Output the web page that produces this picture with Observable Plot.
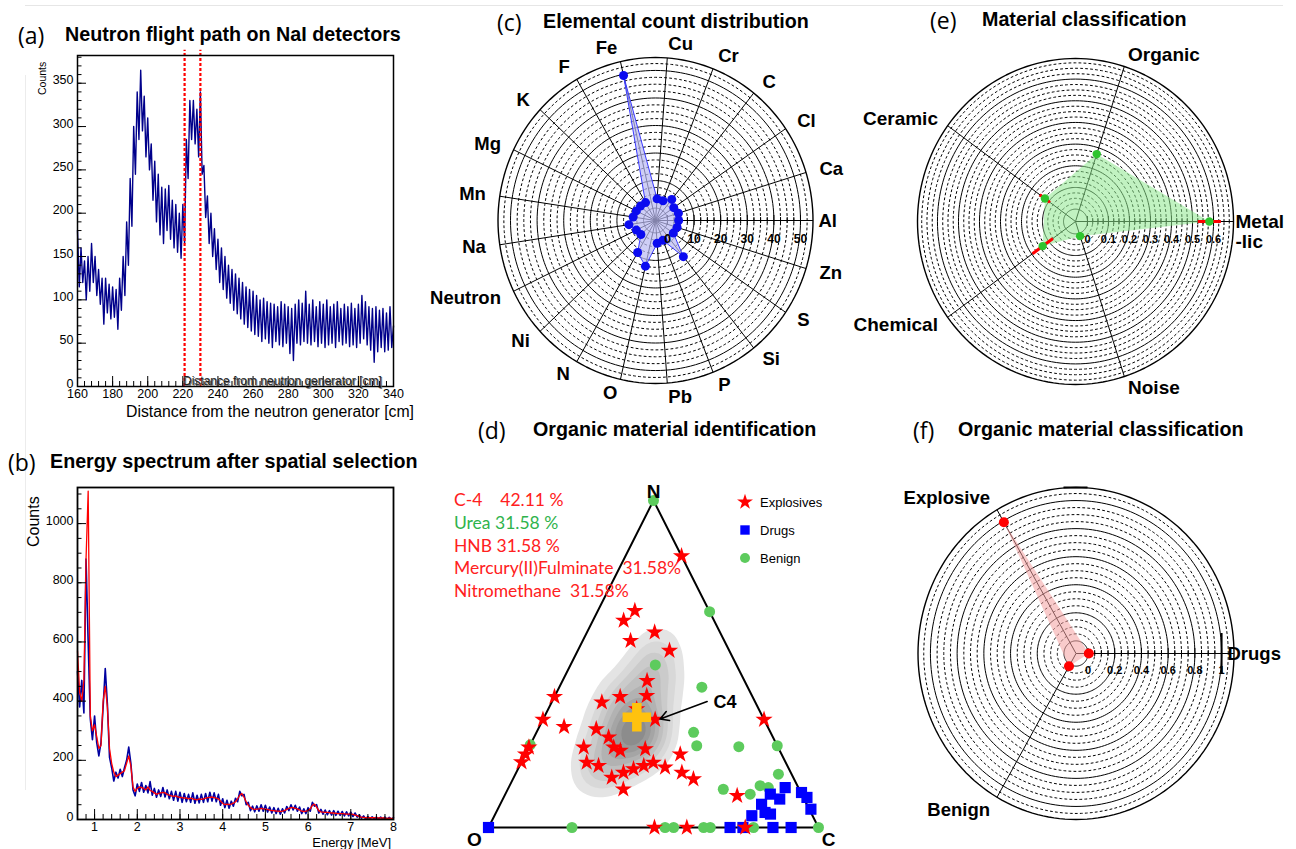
<!DOCTYPE html>
<html><head><meta charset="utf-8">
<script src="https://cdn.jsdelivr.net/npm/d3@7"></script>
<script src="https://cdn.jsdelivr.net/npm/@observablehq/plot@0.6"></script>
<style>
html,body{margin:0;padding:0;background:#fff;}
#root{position:relative;width:1296px;height:849px;overflow:hidden;font-family:"Liberation Sans",Arial,sans-serif;color:#000;}
#root svg{overflow:visible;}
</style></head><body><div id="root"></div>
<script>
// ================= DATA =================
// (a) neutron flight path, 1 cm bins starting at 160 cm
const aStartCm = 160;
const aBinCm = 1;
const aCounts = [
180,115,160,120,145,100,150,110,165,120,
150,105,135,95,125,72,125,85,118,78,
115,80,112,66,125,88,150,105,190,140,
240,185,300,245,340,285,365,295,335,265,
310,250,280,215,260,190,245,175,230,165,
228,180,232,170,215,160,210,155,200,148,
210,165,285,240,330,285,330,280,320,265,
340,245,255,195,220,165,200,150,182,135,
170,120,160,112,150,102,140,96,135,88,
130,84,125,78,120,72,115,68,112,64,
110,60,105,58,100,52,102,55,98,50,
96,45,95,52,92,48,98,46,95,50,
92,38,90,30,95,50,100,48,96,52,
110,50,95,48,100,52,92,46,98,50,
95,45,100,48,92,50,95,45,98,52,
90,48,95,50,92,46,96,48,90,45,
95,50,105,55,98,48,92,42,90,28,
92,40,88,45,90,40,85,42,92,45,
70];
const aCutsCm = [221, 230];
const aXTicks = [160,180,200,220,240,260,280,300,320,340];
const aYTicks = [0,50,100,150,200,250,300,350];

// (b) energy spectrum, 0.05 MeV bins starting at 0.6 MeV
const bStartMeV = 0.6;
const bBinMeV = 0.05;
const bMeasured = [
500,380,470,360,880,600,340,270,350,260,
215,260,380,510,390,210,175,130,160,140,
170,145,175,200,245,190,100,80,120,95,
125,92,115,90,128,82,105,75,100,78,
108,76,100,70,95,65,95,62,92,58,
88,60,85,58,90,55,82,56,85,58,
88,60,92,62,90,60,85,48,70,40,
65,38,62,45,72,60,95,80,85,50,
58,30,45,26,46,28,50,28,48,25,
42,22,40,20,38,18,36,22,44,30,
50,32,48,28,42,20,36,20,40,28,
58,45,50,22,34,18,32,16,30,15,
30,14,28,14,27,12,26,12,25,10,
22,8,16,4,12,2,10,2,9,2,
8,2,8,1,8,1,7,1,6];
const bSmoothed = [
570,430,400,470,880,1110,350,300,320,280,
240,250,400,450,380,240,190,160,145,150,
155,160,165,190,215,180,110,95,105,110,
108,105,100,110,98,95,90,85,88,90,
92,90,85,82,80,78,80,76,75,74,
72,73,70,72,70,68,66,70,68,70,
72,74,75,76,74,72,70,62,55,50,
52,50,52,55,60,70,82,88,75,60,
48,40,36,34,35,36,38,36,35,34,
32,30,30,28,28,27,28,30,34,38,
40,40,38,36,32,28,27,28,30,36,
48,52,42,30,26,25,24,24,23,22,
22,21,20,20,20,19,18,18,18,17,
15,13,10,8,7,6,6,6,6,6,
5,5,5,5,5,4,5,4,4];
const bXTicks = [1,2,3,4,5,6,7,8];
const bYTicks = [0,200,400,600,800,1000];

// (c) elemental counts (counter-clockwise from Al)
const cElements = ["Al","Ca","Cl","C","Cr","Cu","Fe","F","K","Mg","Mn","Na","Neutron","Ni","N","O","Pb","P","Si","S","Zn"];
const cCounts   = [4.2,4.5,3.8,5.3,3.2,3.4,49.5,3.0,3.2,3.5,4.0,5.6,3.5,3.0,8.9,12.5,3.8,3.2,12.3,3.6,4.0];
const cRadialTicks = [0,10,20,30,40,50];

// (d) ternary compositions [N fraction, C fraction]; O = 1 - N - C
const dExplosives = [[0.83,0.17],[0.33,0.67],[0.40,0],[0.33,0],[0.245,0],[0.20,0],[0.224,0],[0.308,0.075],
 [0.633,0.093],[0.663,0.112],[0.571,0.145],[0.597,0.205],[0.541,0.278],[0.449,0.256],[0.403,0.278],[0.400,0.199],
 [0.383,0.152],[0.362,0.268],[0.330,0.340],[0.301,0.176],[0.276,0.226],[0.245,0.166],[0.245,0.257],[0.235,0.282],
 [0.240,0.355],[0.199,0.198],[0.189,0.239],[0.153,0.297],[0.168,0.325],[0.179,0.350],[0.189,0.376],[0.199,0.400],
 [0.184,0.443],[0.224,0.469],[0.168,0.502],[0.148,0.547],[0.117,0.350],[0.097,0.705],[0,0.503],[0,0.601],[0,0.778]];
const dDrugs = [[0,0],[0,0.732],[0,0.771],[0,0.862],[0,0.917],[0.036,0.780],[0.071,0.792],[0.041,0.834],
 [0.102,0.803],[0.087,0.839],[0.122,0.838],[0.107,0.895],[0.092,0.919],[0.056,0.949],[0.046,0.815]];
const dBenign = [[1,0],[0.66,0.34],[0.497,0.257],[0.429,0.432],[0.291,0.476],[0.25,0.506],[0.247,0.635],[0.25,0.75],
 [0.163,0.797],[0.117,0.653],[0.102,0.742],[0.128,0.759],[0.122,0.787],[0.253,0],[0,0.253],[0,0.535],[0,0.561],
 [0,0.652],[0,0.672],[0,0.803],[0,1]];
const dC4Cloud = [[0.551,0.240],[0.490,0.255],[0.449,0.235],[0.429,0.306],[0.408,0.195],[0.367,0.296],[0.347,0.246],
 [0.327,0.196],[0.306,0.347],[0.286,0.306],[0.265,0.267],[0.245,0.216],[0.245,0.357],[0.204,0.317],[0.184,0.267],
 [0.163,0.237],[0.327,0.296],[0.265,0.307]];
const dC4 = [0.337,0.281];
const dC4Arrow = [[0.385,0.470],[0.332,0.354]];
const dC4Label = [0.383,0.49];
const dVertices = [["N",[1,0]],["O",[0,0]],["C",[0,1]]];
const dScoreText = ["C-4    42.11 %","Urea 31.58 %","HNB 31.58 %","Mercury(II)Fulminate  31.58%","Nitromethane  31.58%"];
const dScoreKind = ["explosive","benign","explosive","explosive","explosive"];
const dLegend = ["Explosives","Drugs","Benign"];

// (e) material classification
const eClasses = ["Metallic","Organic","Ceramic","Chemical","Noise"];
const eLabels  = ["Metal\n-lic","Organic","Ceramic","Chemical","Noise"];
const eScores  = [0.58,0.27,0.123,0.136,0.014];
const eErrors  = [0.055,0.015,0.03,0.06,0.01];
const eRadialTicks = [0,0.1,0.2,0.3,0.4,0.5,0.6];

// (f) organic material classification
const fClasses = ["Drugs","Explosive","Benign"];
const fScores  = [0.006,0.99,0.015];
const fRadialTicks = [0,0.2,0.4,0.6,0.8,1];

// ================= HELPERS =================
const root = document.getElementById("root");
const FONT = '"Liberation Sans", Arial, sans-serif';
const LABFONT = '"Open Sans", Lato, sans-serif';
function put(node, left, top) { node.style.position = "absolute"; node.style.left = left + "px"; node.style.top = top + "px"; root.appendChild(node); }
function txt(s, x, y, o = {}) {
  const d = document.createElement("div");
  d.textContent = s;
  const size = o.size || 13;
  Object.assign(d.style, {position:"absolute", left:x+"px", top:(y - size*0.5)+"px", fontSize:size+"px", lineHeight:size+"px",
    whiteSpace:"pre", fontFamily:o.family || FONT, fontWeight:o.weight || "normal", color:o.color || "#000"});
  if (o.shadow) d.style.textShadow = o.shadow;
  if (o.anchor === "end") d.style.transform = "translateX(-100%)";
  if (o.anchor === "middle") d.style.transform = "translateX(-50%)";
  if (o.rotate) { d.style.transformOrigin = "0 0"; d.style.transform = "rotate(-90deg)"; d.style.top = y + "px"; }
  root.appendChild(d);
  return d;
}
const baseStyle = {fontFamily: FONT, fontSize: "13px", background: "transparent", color: "black", overflow: "visible"};

function histPlot(o) {
  const w = o.W - o.ml - o.mr, h = o.H - o.mt - o.mb;
  const kx = (o.xDom[1]-o.xDom[0]) / w, ky = (o.yDom[1]-o.yDom[0]) / h;
  return Plot.plot({
    width:o.W, height:o.H, marginLeft:o.ml, marginRight:o.mr, marginTop:o.mt, marginBottom:o.mb,
    x:{domain:o.xDom}, y:{domain:o.yDom}, style:baseStyle,
    marks:[
      ...o.marks,
      Plot.ruleX(o.xMaj, {y1:o.yDom[0], y2:o.yDom[0] + 10*ky, stroke:"black"}),
      Plot.ruleX(o.xMin, {y1:o.yDom[0], y2:o.yDom[0] + 5*ky, stroke:"black"}),
      Plot.ruleY(o.yMaj, {x1:o.xDom[0], x2:o.xDom[0] + 9*kx, stroke:"black"}),
      Plot.ruleY(o.yMin, {x1:o.xDom[0], x2:o.xDom[0] + 4.5*kx, stroke:"black"}),
      Plot.frame({stroke:"black", strokeWidth:o.frameW || 1.5}),
      Plot.axisX(o.xMaj, {tickSize:0, tickPadding:3, label:null, tickFormat:d => String(d), fontSize:12.5}),
      Plot.axisY(o.yMaj, {tickSize:0, tickPadding:4, label:null, tickFormat:d => String(d), fontSize:12.5, dy:-3})
    ]
  });
}

function polarPlot(o) {
  const U = v => (v + o.vOff) / (o.vMax + o.vOff);
  const n = o.cats.length;
  const th = i => i * 2 * Math.PI / n;
  const P = (v, i) => ({x: U(v) * Math.cos(th(i)), y: U(v) * Math.sin(th(i))});
  const degs = d3.range(0, 361, 2);
  const ring = vs => vs.flatMap(v => degs.map(a => ({v, x: U(v)*Math.cos(a*Math.PI/180), y: U(v)*Math.sin(a*Math.PI/180)})));
  const step = (o.solid[1] - o.solid[0]) / (o.nDash + 1);
  const bounds = [...o.solid, o.vMax];
  const dashV = [];
  for (let k = 0; k < bounds.length - 1; k++)
    for (let j = 1; j <= o.nDash; j++) { const v = bounds[k] + j*step; if (v < bounds[k+1] - step*0.3) dashV.push(v); }
  const spokes = o.cats.map((c, i) => ({x2: Math.cos(th(i)), y2: Math.sin(th(i))}));
  const labs = o.labels.map((t, i) => {
    const c = Math.cos(th(i)), s = Math.sin(th(i));
    const off = Math.abs(s) < 0.05 ? o.hOff : o.off;
    return {t, x: c*(1 + off/o.rx), y: s*(1 + off/o.ry), a: c > 0.05 ? "start" : c < -0.05 ? "end" : "middle", multi: t.includes("\n")};
  });
  const labMarks = [];
  for (const a of ["start","end","middle"]) for (const m of [false,true]) {
    const sub = labs.filter(d => d.a === a && d.multi === m);
    if (sub.length) labMarks.push(Plot.text(sub, {x:"x", y:"y", text:"t", textAnchor:a, dy: m ? 10 : 0, fontSize:o.labSize, fontWeight:"bold", lineHeight:1.05}));
  }
  return Plot.plot({
    width:o.W, height:o.H, marginLeft:o.cx - o.rx, marginRight:o.W - o.cx - o.rx, marginTop:o.cy - o.ry, marginBottom:o.H - o.cy - o.ry,
    x:{domain:[-1,1], axis:null}, y:{domain:[-1,1], axis:null}, style:baseStyle,
    marks:[
      Plot.line(ring(dashV), {x:"x", y:"y", z:"v", stroke:"black", strokeWidth:1, strokeDasharray:"2,3"}),
      Plot.line(ring(o.solid), {x:"x", y:"y", z:"v", stroke:"black", strokeWidth:1}),
      Plot.line(ring([o.vMax]), {x:"x", y:"y", z:"v", stroke:"black", strokeWidth:1.4}),
      Plot.link(spokes, {x1:() => 0, y1:() => 0, x2:"x2", y2:"y2", stroke:"black", strokeWidth:1}),
      Plot.ruleX(dashV.filter(v => v <= o.ticks[o.ticks.length-1]), {x:v => U(v), y1:-3/o.ry, y2:3/o.ry, stroke:"black"}),
      Plot.ruleX(o.ticks, {x:v => U(v), y1:-5/o.ry, y2:5/o.ry, stroke:"black"}),
      ...o.extra(U, th, P),
      Plot.text(o.ticks, {x:v => U(v), y:() => 0, text:o.tickFmt, dy:o.tickDy, fontSize:o.tickSize, fontWeight:"bold"}),
      ...labMarks
    ]
  });
}

// ================= PAGE DECOR =================
const hl = document.createElement("div"); Object.assign(hl.style, {width:"1258px", height:"1px", background:"#e6e6e6"}); put(hl, 25, 5);
const vl = document.createElement("div"); Object.assign(vl.style, {width:"1px", height:"715px", background:"#ececec"}); put(vl, 25, 75);

// ================= (a) =================
const aData = aCounts.map((c, i) => ({cm: aStartCm + i*aBinCm, counts: c}));
put(histPlot({
  W:430, H:420, ml:77, mr:37, mt:55, mb:34, xDom:[160,340], yDom:[0,382],
  xMaj:aXTicks, xMin:d3.range(160, 341, 4), yMaj:aYTicks, yMin:d3.range(0, 381, 10),
  marks:[
    Plot.line(aData, {x:"cm", y:"counts", stroke:"#00008b", strokeWidth:1.4}),
    Plot.ruleX(aCutsCm, {y1:0, y2:388, stroke:"#ff0000", strokeWidth:2.2, strokeDasharray:"3,2"})
  ]
}), 0, 0);
txt("(a)", 18, 35, {size:23, family:LABFONT});
txt("Neutron flight path on NaI detectors", 65, 35, {size:19.7, weight:"bold"});
txt("Counts", 37, 95, {size:10.5, rotate:true});
txt("Distance from neutron generator [cm]", 183, 380.5, {size:12, color:"#222", shadow:"1px 1px 0 #777"});
txt("Distance from the neutron generator [cm]", 126, 411.5, {size:15.8});

// ================= (b) =================
const bData = bMeasured.map((c, i) => ({e: bStartMeV + i*bBinMeV, counts: c}));
const bFit = bSmoothed.map((c, i) => ({e: bStartMeV + i*bBinMeV, counts: c}));
put(histPlot({
  W:430, H:409, ml:77, mr:37, mt:47, mb:30, xDom:[0.6,8], yDom:[0,1122], frameW:1.8,
  xMaj:bXTicks, xMin:d3.range(0.6, 8.01, 0.2).map(v => +v.toFixed(2)), yMaj:bYTicks, yMin:d3.range(0, 1101, 50),
  marks:[
    Plot.line(bData, {x:"e", y:"counts", stroke:"#0000a0", strokeWidth:1.6}),
    Plot.line(bFit, {x:"e", y:"counts", stroke:"#ff0000", strokeWidth:1.3})
  ]
}), 0, 440);
txt("(b)", 8, 462, {size:23, family:LABFONT});
txt("Energy spectrum after spatial selection", 50, 462, {size:19.7, weight:"bold"});
txt("Counts", 26, 547, {size:16, rotate:true});
txt("Energy [MeV]", 391, 842, {size:13, anchor:"end"});

// ================= (c) =================
put(polarPlot({
  W:440, H:420, cx:235, cy:220, rx:157.5, ry:163,
  cats:cElements, labels:cElements, vOff:4.5, vMax:54.7, solid:[0,10,20,30,40,50], nDash:3,
  ticks:cRadialTicks, tickFmt:d => String(d), tickDy:19, tickSize:12, labSize:18.5, off:14, hOff:5.5,
  extra:(U, th, P) => {
    const pts = cCounts.map((v, i) => P(v, i));
    return [
      Plot.line(pts, {x:"x", y:"y", curve:"linear-closed", fill:"#b9b9f2", fillOpacity:0.7, stroke:"none"}),
      Plot.line(pts, {x:"x", y:"y", curve:"linear-closed", stroke:"#3a3aff", strokeWidth:1}),
      Plot.dot(pts, {x:"x", y:"y", r:4.5, fill:"#0b0bf0"})
    ];
  }
}), 420, 0);
txt("(c)", 497, 22, {size:23, family:LABFONT});
txt("Elemental count distribution", 543, 22, {size:19.7, weight:"bold"});

// ================= (d) =================
const tx = d => d[1] + d[0]/2, ty = d => d[0];
const scoreColor = {explosive:"#ff2020", benign:"#2fb34c"};
put(Plot.plot({
  width:440, height:429, marginLeft:68, marginRight:42, marginTop:80, marginBottom:22,
  x:{domain:[0,1], axis:null}, y:{domain:[0,1], axis:null},
  color:{type:"linear", range:["#f1f1f1","#8c8c8c"]},
  style:baseStyle,
  marks:[
    Plot.density(dC4Cloud, {x:tx, y:ty, fill:"density", bandwidth:15, thresholds:9}),
    Plot.line([[0,0],[0,1],[1,0],[0,0]], {x:tx, y:ty, stroke:"black", strokeWidth:2}),
    Plot.dot(dBenign, {x:tx, y:ty, r:5.5, fill:"#5dcb5d"}),
    Plot.dot(dDrugs, {x:tx, y:ty, symbol:"square", r:6.3, fill:"#0000ff"}),
    Plot.dot(dExplosives, {x:tx, y:ty, symbol:"star", r:5.4, fill:"#ff0000"}),
    Plot.dot([dC4], {x:tx, y:ty, symbol:"cross", r:12, fill:"#ffc20e"}),
    Plot.arrow([dC4Arrow], {x1:d => tx(d[0]), y1:d => ty(d[0]), x2:d => tx(d[1]), y2:d => ty(d[1]), stroke:"black", strokeWidth:1.6, headLength:9}),
    Plot.text([dC4Label], {x:tx, y:ty, text:() => "C4", textAnchor:"start", fontWeight:"bold", fontSize:18}),
    Plot.text(dVertices.filter(d => d[0] === "N"), {x:d => tx(d[1]), y:d => ty(d[1]), text:d => d[0], dy:-9, fontWeight:"bold", fontSize:19}),
    Plot.text(dVertices.filter(d => d[0] === "O"), {x:d => tx(d[1]), y:d => ty(d[1]), text:d => d[0], dx:-14, dy:12, fontWeight:"bold", fontSize:19}),
    Plot.text(dVertices.filter(d => d[0] === "C"), {x:d => tx(d[1]), y:d => ty(d[1]), text:d => d[0], dx:10, dy:12, fontWeight:"bold", fontSize:19})
  ]
}), 420, 420);
txt("(d)", 478, 430, {size:23, family:LABFONT});
txt("Organic material identification", 533, 430, {size:19.7, weight:"bold"});
dScoreText.forEach((s, i) => txt(s, 454, 500 + i*22.7, {size:17.5, family:"Lato, 'Open Sans', sans-serif", color:scoreColor[dScoreKind[i]]}));
// legend
const legSym = [[d3.symbolStar, Math.PI*5*5, "#ff0000"], [d3.symbolSquare, Math.PI*5.3*5.3, "#0000ff"], [d3.symbolCircle, Math.PI*5*5, "#5dcb5d"]];
dLegend.forEach((name, i) => {
  const svg = d3.create("svg").attr("width", 20).attr("height", 20);
  svg.append("path").attr("transform", "translate(10,10)").attr("d", d3.symbol(legSym[i][0], legSym[i][1])()).attr("fill", legSym[i][2]);
  put(svg.node(), 735, 492 + i*28);
  txt(name, 760, 502 + i*28, {size:13});
});

// ================= (e) =================
put(polarPlot({
  W:456, H:420, cx:235, cy:221, rx:158, ry:163,
  cats:eClasses, labels:eLabels, vOff:0.057, vMax:0.695, solid:[0,0.1,0.2,0.3,0.4,0.5,0.6], nDash:3,
  ticks:eRadialTicks, tickFmt:d => String(d), tickDy:18, tickSize:11, labSize:19, off:12, hOff:2,
  extra:(U, th, P) => {
    const pts = eScores.map((v, i) => P(v, i));
    const errs = eScores.map((v, i) => { const a = P(Math.max(0, v - eErrors[i]), i), b = P(v + eErrors[i], i); return {x1:a.x, y1:a.y, x2:b.x, y2:b.y}; });
    return [
      Plot.line(pts, {x:"x", y:"y", curve:"linear-closed", fill:"#8ee88e", fillOpacity:0.55, stroke:"none"}),
      Plot.link(errs, {x1:"x1", y1:"y1", x2:"x2", y2:"y2", stroke:"#ff0000", strokeWidth:3}),
      Plot.dot(pts, {x:"x", y:"y", r:4.2, fill:"#2ec42e"})
    ];
  }
}), 840, 0);
txt("(e)", 930, 20, {size:23, family:LABFONT});
txt("Material classification", 982, 20, {size:19.7, weight:"bold"});

// ================= (f) =================
put(polarPlot({
  W:456, H:429, cx:235.5, cy:233, rx:158, ry:166,
  cats:fClasses, labels:fClasses, vOff:0.09, vMax:1.093, solid:[0,0.2,0.4,0.6,0.8,1.0], nDash:3,
  ticks:fRadialTicks, tickFmt:d => String(d), tickDy:17, tickSize:11, labSize:18.5, off:14, hOff:-6.5,
  extra:(U, th, P) => {
    const pts = fScores.map((v, i) => P(v, i));
    return [
      Plot.line(pts, {x:"x", y:"y", curve:"linear-closed", fill:"#f4a0a0", fillOpacity:0.55, stroke:"none"}),
      Plot.ruleX([1], {x:v => U(v), y1:-20/166, y2:20/166, stroke:"black", strokeWidth:2}),
      Plot.ruleY([1], {x1:-12/158, x2:12/158, stroke:"black", strokeWidth:2}),
      Plot.dot(pts, {x:"x", y:"y", r:5, fill:"#ff0000"})
    ];
  }
}), 840, 420);
txt("(f)", 913, 430, {size:23, family:LABFONT});
txt("Organic material classification", 958, 430, {size:19.7, weight:"bold"});
</script></body></html>
